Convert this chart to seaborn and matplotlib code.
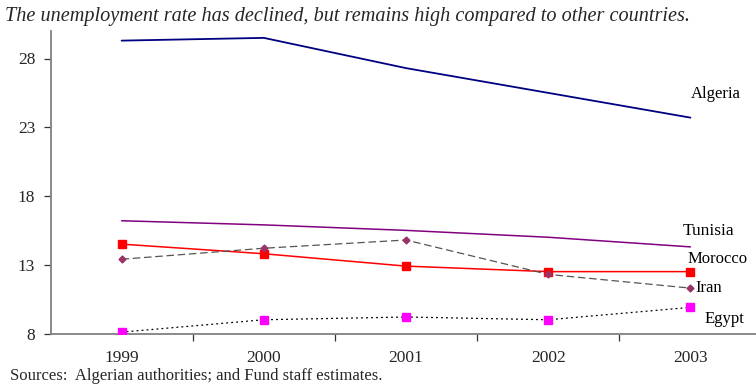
import matplotlib
matplotlib.use("Agg")
import matplotlib.pyplot as plt
import seaborn as sns
import pandas as pd
import numpy as np
from matplotlib.ticker import FixedLocator

years = ["1999", "2000", "2001", "2002", "2003"]
algeria = [29.3, 29.5, 27.3, 25.5, 23.7]
tunisia = [16.2, 15.9, 15.5, 15.0, 14.3]
morocco = [14.5, 13.8, 12.9, 12.5, 12.5]
iran = [13.4, 14.2, 14.8, 12.3, 11.3]
egypt = [8.1, 9.0, 9.2, 9.0, 9.9]
yticks = [8, 13, 18, 23, 28]

title = "The unemployment rate has declined, but remains high compared to other countries."
source = "Sources:  Algerian authorities; and Fund staff estimates."

sns.set_theme(style="white")
plt.rcParams["font.family"] = ["Liberation Serif", "DejaVu Serif"]

fig = plt.figure(figsize=(7.56, 3.85), dpi=100)
ax = fig.add_axes([50.5 / 756, (385 - 333.5) / 385, 711 / 756, (333.5 - 31) / 385])

x = np.arange(len(years))

series = [
    ("Algeria", algeria, dict(color="#000080", lw=1.3, ls="-")),
    ("Tunisia", tunisia, dict(color="#800080", lw=1.1, ls="-")),
    ("Morocco", morocco, dict(color="#FF0000", lw=1.1, ls="-", marker="s", ms=6, mec="#FF0000", mfc="#FF0000")),
    ("Iran", iran, dict(color="#555555", lw=0.9, ls=(0, (6, 3)), marker="D", ms=3.5, mec="#993366", mfc="#993366")),
    ("Egypt", egypt, dict(color="#000000", lw=0.9, ls=(0, (1.5, 2.5)), marker="s", ms=6, mec="#FF00FF", mfc="#FF00FF")),
]

for name, vals, kw in series:
    df = pd.DataFrame({"x": x, "v": vals})
    marker = kw.pop("marker", None)
    ms = kw.pop("ms", None)
    mec = kw.pop("mec", None)
    mfc = kw.pop("mfc", None)
    ls = kw.pop("ls")
    sns.lineplot(data=df, x="x", y="v", ax=ax, linestyle=ls, **kw)
    if marker:
        ax.plot(x, vals, ls="none", marker=marker, ms=ms, mec=mec, mfc=mfc, zorder=4)

labels = [
    ("Algeria", 4, algeria[4], 0, 24, 12),
    ("Tunisia", 4, tunisia[4], -8, 16, 12.5),
    ("Morocco", 4, morocco[4], -3, 13, 12),
    ("Iran", 4, iran[4], 5, 0, 12),
    ("Egypt", 4, egypt[4], 14, -12, 12),
]
for name, xi, yv, dx, dy, fs in labels:
    ax.annotate(name, (xi, yv), xytext=(dx, dy), textcoords="offset pixels",
                ha="left", va="center", fontsize=fs, color="#000000")

ax.set_xlim(-0.5, 4.5)
ax.set_ylim(8, 30.0)
ax.set_xticks(x)
ax.set_xticklabels(years)
ax.xaxis.set_minor_locator(FixedLocator([0.5, 1.5, 2.5, 3.5]))
ax.set_yticks(yticks)
ax.set_xlabel("")
ax.set_ylabel("")
ax.tick_params(axis="x", which="major", length=0, pad=12, labelsize=12.5)
ax.tick_params(axis="x", which="minor", length=5, width=0.9, color="#333333", direction="out", bottom=True)
ax.tick_params(axis="y", length=5, width=0.9, color="#333333", direction="out", left=True, pad=6, labelsize=12.5)
for s in ["top", "right"]:
    ax.spines[s].set_visible(False)
for s in ["left", "bottom"]:
    ax.spines[s].set_color("#808080")
    ax.spines[s].set_linewidth(1.3)
ax.grid(False)

fig.text(5 / 756, 1 - 16 / 385, title, fontsize=14.6, style="italic", ha="left", va="center")
fig.text(10 / 756, 1 - 376 / 385, source, fontsize=12, ha="left", va="center")

fig.savefig("out.png", dpi=100)
